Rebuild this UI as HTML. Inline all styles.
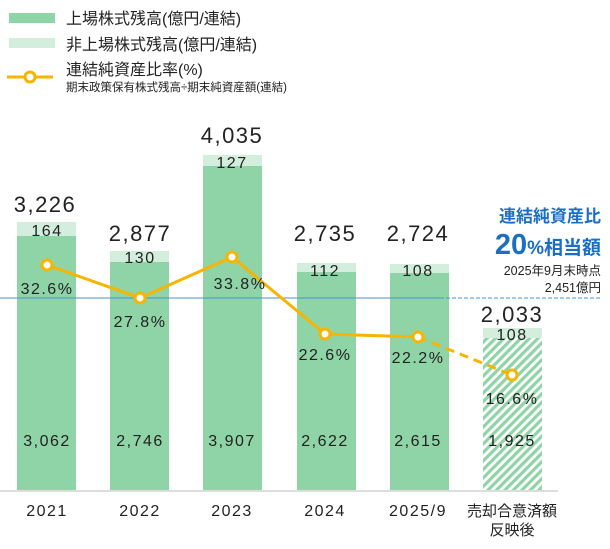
<!DOCTYPE html>
<html><head><meta charset="utf-8"><style>
body{margin:0;background:#fff;width:610px;height:544px;overflow:hidden}
svg text{font-family:"Liberation Sans","Noto Sans CJK JP",sans-serif;fill:#222}
.n{letter-spacing:1.5px}
</style></head><body>
<svg width="610" height="544" viewBox="0 0 610 544" xmlns="http://www.w3.org/2000/svg">
<defs><pattern id="h" width="6" height="6" patternUnits="userSpaceOnUse" patternTransform="rotate(45)">
<rect width="6" height="6" fill="#fff"/><rect width="3.2" height="6" fill="#8fd4a6"/></pattern></defs>
<rect x="9" y="13" width="46" height="10" fill="#8fd4a6"/>
<text x="66" y="24" font-size="16">上場株式残高(億円/連結)</text>
<rect x="9" y="38" width="46" height="10" fill="#d3eedc"/>
<text x="66" y="50" font-size="16">非上場株式残高(億円/連結)</text>
<line x1="7" y1="77" x2="53" y2="77" stroke="#f7b500" stroke-width="3"/>
<circle cx="30" cy="77" r="5" fill="#fff" stroke="#f7b500" stroke-width="3"/>
<text x="66" y="75" font-size="16">連結純資産比率(%)</text>
<text x="66" y="91" font-size="11.5">期末政策保有株式残高÷期末純資産額(連結)</text>
<line x1="0" y1="491" x2="558" y2="491" stroke="#ddd" stroke-width="2"/>
<g>
<rect x="17" y="222" width="59" height="14" fill="#d3eedc"/><rect x="17" y="236" width="59" height="254" fill="#8fd4a6"/>
<rect x="110" y="251" width="59" height="11" fill="#d3eedc"/><rect x="110" y="262" width="59" height="228" fill="#8fd4a6"/>
<rect x="203" y="155" width="59" height="11" fill="#d3eedc"/><rect x="203" y="166" width="59" height="324" fill="#8fd4a6"/>
<rect x="297" y="263" width="59" height="9" fill="#d3eedc"/><rect x="297" y="272" width="59" height="218" fill="#8fd4a6"/>
<rect x="390" y="264" width="59" height="9" fill="#d3eedc"/><rect x="390" y="273" width="59" height="217" fill="#8fd4a6"/>
<rect x="483" y="328" width="59" height="10" fill="#d3eedc"/><rect x="483" y="338" width="59" height="152" fill="url(#h)"/>
</g>
<line x1="0" y1="298" x2="440" y2="298" stroke="#4a8fd8" stroke-width="1"/>
<line x1="440" y1="298" x2="600" y2="298" stroke="#4a8fd8" stroke-width="1" stroke-dasharray="4,2"/>
<polyline points="47,265 140,298 232,257 325,334 418,337" fill="none" stroke="#f7b500" stroke-width="3"/>
<line x1="418" y1="337" x2="512" y2="375" stroke="#f7b500" stroke-width="3" stroke-dasharray="9,6"/>
<g fill="#fff" stroke="#f7b500" stroke-width="3">
<circle cx="47" cy="265" r="5"/><circle cx="140" cy="298" r="5"/><circle cx="232" cy="257" r="5"/>
<circle cx="325" cy="334" r="5"/><circle cx="418" cy="337" r="5"/><circle cx="512" cy="375" r="5"/></g>
<g font-size="22" text-anchor="middle" class="n">
<text x="45" y="212">3,226</text><text x="140" y="241">2,877</text><text x="232" y="143">4,035</text>
<text x="325" y="241">2,735</text><text x="418" y="241">2,724</text><text x="512" y="322">2,033</text></g>
<g font-size="16" text-anchor="middle" class="n">
<text x="47" y="236">164</text><text x="140" y="263">130</text><text x="232" y="168">127</text>
<text x="325" y="276">112</text><text x="418" y="276">108</text><text x="512" y="340">108</text>
<text x="47" y="294">32.6%</text><text x="140" y="327">27.8%</text><text x="240" y="289">33.8%</text>
<text x="325" y="360">22.6%</text><text x="418" y="363">22.2%</text><text x="512" y="404">16.6%</text>
<text x="47" y="446">3,062</text><text x="140" y="446">2,746</text><text x="232" y="446">3,907</text>
<text x="325" y="446">2,622</text><text x="418" y="446">2,615</text><text x="512" y="446">1,925</text>
<text x="47" y="516">2021</text><text x="140" y="516">2022</text><text x="232" y="516">2023</text>
<text x="325" y="516">2024</text><text x="418" y="516">2025/9</text></g>
<g font-size="15" text-anchor="middle">
<text x="512" y="516">売却合意済額</text><text x="512" y="535">反映後</text></g>
<text x="601" y="222" font-size="17" text-anchor="end" style="fill:#1a6fc4;font-weight:bold">連結純資産比</text>
<text x="601" y="254" text-anchor="end" style="fill:#1a6fc4;font-weight:bold"><tspan font-size="29">20</tspan><tspan font-size="19">%相当額</tspan></text>
<text x="601" y="275" font-size="12.5" text-anchor="end">2025年9月末時点</text>
<text x="601" y="292" font-size="12.5" text-anchor="end">2,451億円</text>
</svg>
</body></html>
